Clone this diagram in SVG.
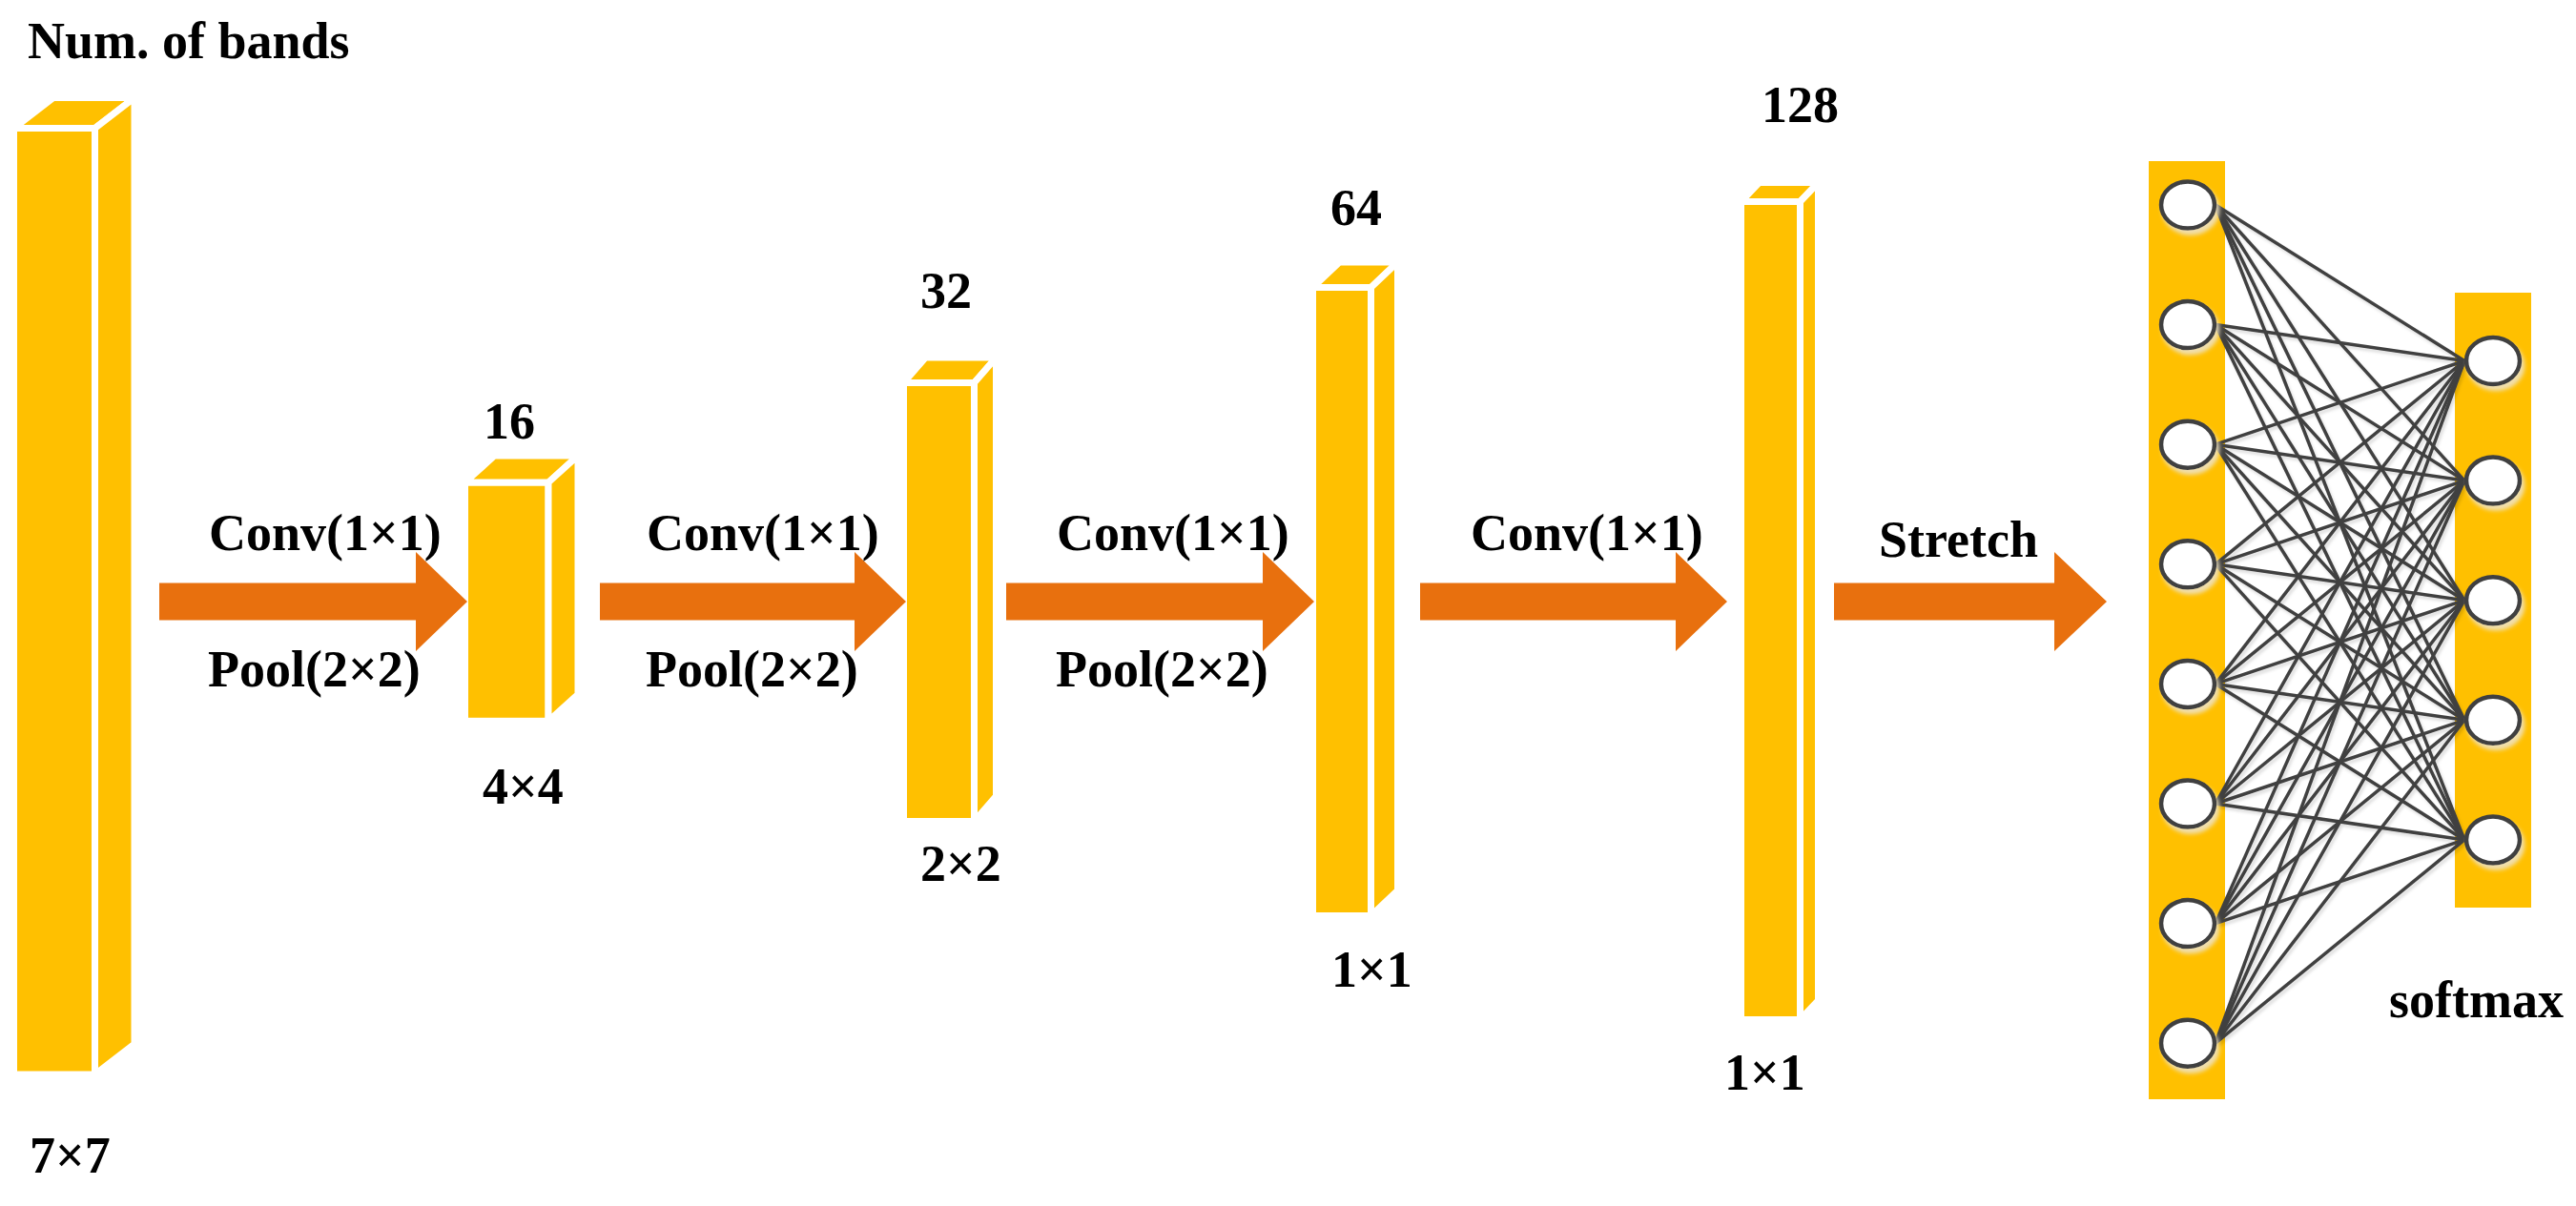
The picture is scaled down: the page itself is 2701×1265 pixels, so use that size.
<svg xmlns="http://www.w3.org/2000/svg" width="2701" height="1265" viewBox="0 0 2701 1265">
<defs>
<style>
.face{fill:#FFC000;stroke:#FFFFFF;stroke-width:7;stroke-linejoin:miter}
.arrow{fill:#E8700E}
.t{font-family:"Liberation Serif","Times New Roman",serif;font-weight:bold;font-size:54px;fill:#000}
.col{fill:#FFC000}
.node{fill:#FFFFFF;stroke:#404040;stroke-width:4.5}
.edge{stroke:#404040;stroke-width:3.5;fill:none}
</style>
<filter id="lshadow" x="-5%" y="-5%" width="110%" height="110%">
<feDropShadow dx="2" dy="3" stdDeviation="1.5" flood-color="#000" flood-opacity="0.13"/>
</filter>
<filter id="nshadow" x="-30%" y="-30%" width="160%" height="160%">
<feDropShadow dx="3" dy="5" stdDeviation="2" flood-color="#EFE2C0" flood-opacity="0.9"/>
</filter>
</defs>
<rect width="2701" height="1265" fill="#FFFFFF"/>

<g id="label-bands"><text class="t" x="29" y="61">Num. of bands</text></g>

<g id="bar1">
<rect class="face" x="14.5" y="134.5" width="85" height="992.5"/>
<polygon class="face" points="14.5,134.5 99.5,134.5 141,102.5 56,102.5"/>
<polygon class="face" points="99.5,134.5 141,102.5 141,1095 99.5,1127"/>
<text class="t" x="31" y="1230">7×7</text>
</g>

<g id="bar2">
<rect class="face" x="487.5" y="506" width="87.5" height="250.3"/>
<polygon class="face" points="487.5,506 575,506 606,478 518.5,478"/>
<polygon class="face" points="575,506 606,478 606,728.3 575,756.3"/>
<text class="t" x="507" y="460">16</text>
<text class="t" x="506" y="843">4×4</text>
</g>

<g id="bar3">
<rect class="face" x="947.5" y="401.5" width="74" height="460"/>
<polygon class="face" points="947.5,401.5 1021.5,401.5 1044.5,375 970.5,375"/>
<polygon class="face" points="1021.5,401.5 1044.5,375 1044.5,835 1021.5,861.5"/>
<text class="t" x="965" y="323">32</text>
<text class="t" x="965" y="924">2×2</text>
</g>

<g id="bar4">
<rect class="face" x="1376.5" y="301.5" width="61" height="659"/>
<polygon class="face" points="1376.5,301.5 1437.5,301.5 1465.5,275 1404.5,275"/>
<polygon class="face" points="1437.5,301.5 1465.5,275 1465.5,934 1437.5,960.5"/>
<text class="t" x="1395" y="236">64</text>
<text class="t" x="1396" y="1035">1×1</text>
</g>

<g id="bar5">
<rect class="face" x="1825.5" y="211.5" width="62" height="858"/>
<polygon class="face" points="1825.5,211.5 1887.5,211.5 1906.5,191.5 1844.5,191.5"/>
<polygon class="face" points="1887.5,211.5 1906.5,191.5 1906.5,1049.5 1887.5,1069.5"/>
<text class="t" x="1847" y="128">128</text>
<text class="t" x="1808" y="1143">1×1</text>
</g>

<g id="arrows">
<path class="arrow" d="M167,611.5 H436 V579 L490,631 L436,683 V650.5 H167 Z"/>
<path class="arrow" d="M629,611.5 H896 V579 L950,631 L896,683 V650.5 H629 Z"/>
<path class="arrow" d="M1055,611.5 H1324 V579 L1378,631 L1324,683 V650.5 H1055 Z"/>
<path class="arrow" d="M1489,611.5 H1757 V579 L1811,631 L1757,683 V650.5 H1489 Z"/>
<path class="arrow" d="M1923,611.5 H2154 V579 L2209,631 L2154,683 V650.5 H1923 Z"/>
</g>

<g id="arrow-labels">
<text class="t" x="219" y="577">Conv(1×1)</text>
<text class="t" x="218" y="720">Pool(2×2)</text>
<text class="t" x="678" y="577">Conv(1×1)</text>
<text class="t" x="677" y="720">Pool(2×2)</text>
<text class="t" x="1108" y="577">Conv(1×1)</text>
<text class="t" x="1107" y="720">Pool(2×2)</text>
<text class="t" x="1542" y="577">Conv(1×1)</text>
<text class="t" x="1970" y="584">Stretch</text>
</g>

<g id="input-layer-column"><rect class="col" x="2253" y="169" width="80" height="984"/></g>
<g id="output-layer-column"><rect class="col" x="2574" y="307" width="80" height="645"/></g>

<g id="connectors" class="edge" filter="url(#lshadow)">
<line x1="2323" y1="215" x2="2584" y2="378.5"/><line x1="2323" y1="215" x2="2584" y2="504.1"/><line x1="2323" y1="215" x2="2584" y2="629.7"/><line x1="2323" y1="215" x2="2584" y2="755.3"/><line x1="2323" y1="215" x2="2584" y2="880.9"/>
<line x1="2323" y1="340.6" x2="2584" y2="378.5"/><line x1="2323" y1="340.6" x2="2584" y2="504.1"/><line x1="2323" y1="340.6" x2="2584" y2="629.7"/><line x1="2323" y1="340.6" x2="2584" y2="755.3"/><line x1="2323" y1="340.6" x2="2584" y2="880.9"/>
<line x1="2323" y1="466.2" x2="2584" y2="378.5"/><line x1="2323" y1="466.2" x2="2584" y2="504.1"/><line x1="2323" y1="466.2" x2="2584" y2="629.7"/><line x1="2323" y1="466.2" x2="2584" y2="755.3"/><line x1="2323" y1="466.2" x2="2584" y2="880.9"/>
<line x1="2323" y1="591.8" x2="2584" y2="378.5"/><line x1="2323" y1="591.8" x2="2584" y2="504.1"/><line x1="2323" y1="591.8" x2="2584" y2="629.7"/><line x1="2323" y1="591.8" x2="2584" y2="755.3"/><line x1="2323" y1="591.8" x2="2584" y2="880.9"/>
<line x1="2323" y1="717.4" x2="2584" y2="378.5"/><line x1="2323" y1="717.4" x2="2584" y2="504.1"/><line x1="2323" y1="717.4" x2="2584" y2="629.7"/><line x1="2323" y1="717.4" x2="2584" y2="755.3"/><line x1="2323" y1="717.4" x2="2584" y2="880.9"/>
<line x1="2323" y1="843" x2="2584" y2="378.5"/><line x1="2323" y1="843" x2="2584" y2="504.1"/><line x1="2323" y1="843" x2="2584" y2="629.7"/><line x1="2323" y1="843" x2="2584" y2="755.3"/><line x1="2323" y1="843" x2="2584" y2="880.9"/>
<line x1="2323" y1="968.6" x2="2584" y2="378.5"/><line x1="2323" y1="968.6" x2="2584" y2="504.1"/><line x1="2323" y1="968.6" x2="2584" y2="629.7"/><line x1="2323" y1="968.6" x2="2584" y2="755.3"/><line x1="2323" y1="968.6" x2="2584" y2="880.9"/>
<line x1="2323" y1="1094.2" x2="2584" y2="378.5"/><line x1="2323" y1="1094.2" x2="2584" y2="504.1"/><line x1="2323" y1="1094.2" x2="2584" y2="629.7"/><line x1="2323" y1="1094.2" x2="2584" y2="755.3"/><line x1="2323" y1="1094.2" x2="2584" y2="880.9"/>
</g>

<g id="input-nodes" filter="url(#nshadow)">
<ellipse id="in1" class="node" cx="2294" cy="215" rx="28" ry="24.5"/>
<ellipse id="in2" class="node" cx="2294" cy="340.6" rx="28" ry="24.5"/>
<ellipse id="in3" class="node" cx="2294" cy="466.2" rx="28" ry="24.5"/>
<ellipse id="in4" class="node" cx="2294" cy="591.8" rx="28" ry="24.5"/>
<ellipse id="in5" class="node" cx="2294" cy="717.4" rx="28" ry="24.5"/>
<ellipse id="in6" class="node" cx="2294" cy="843" rx="28" ry="24.5"/>
<ellipse id="in7" class="node" cx="2294" cy="968.6" rx="28" ry="24.5"/>
<ellipse id="in8" class="node" cx="2294" cy="1094.2" rx="28" ry="24.5"/>
</g>

<g id="output-nodes" filter="url(#nshadow)">
<ellipse id="out1" class="node" cx="2614" cy="378.5" rx="28" ry="24.5"/>
<ellipse id="out2" class="node" cx="2614" cy="504.1" rx="28" ry="24.5"/>
<ellipse id="out3" class="node" cx="2614" cy="629.7" rx="28" ry="24.5"/>
<ellipse id="out4" class="node" cx="2614" cy="755.3" rx="28" ry="24.5"/>
<ellipse id="out5" class="node" cx="2614" cy="880.9" rx="28" ry="24.5"/>
</g>

<g id="label-softmax"><text class="t" x="2505" y="1067">softmax</text></g>
</svg>
